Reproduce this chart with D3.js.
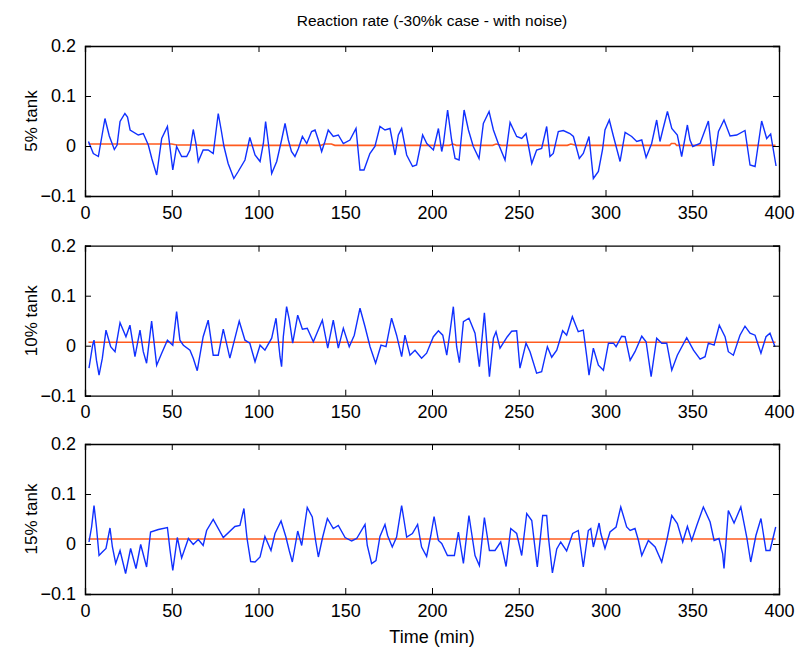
<!DOCTYPE html>
<html>
<head>
<meta charset="utf-8">
<script src="https://cdn.jsdelivr.net/npm/d3@7"></script>
<style>
  body { margin: 0; background: #fff; }
  text { font-family: "Liberation Sans", Arial, sans-serif; fill: #000; }
</style>
</head>
<body>
<script>
// reaction rate with noise, one array of [time, value] per tank
var tank5 = [[2,0.009],[4.8,-0.015],[7.7,-0.021],[11.5,0.055],[14,0.02],[16.9,-0.007],[18.5,0.002],[20.2,0.049],[23,0.065],[24.5,0.058],[26,0.032],[30.7,0.022],[33.6,0.025],[36.5,0.002],[38.5,-0.025],[41.3,-0.058],[44.2,0.015],[47.5,0.039],[50.6,-0.048],[52.8,-0.001],[55.7,-0.021],[58.6,-0.021],[60.5,-0.008],[62.4,0.033],[64,0.004],[65.3,-0.031],[68.1,-0.008],[71,-0.008],[73.9,-0.015],[76.8,0.065],[78.5,0.032],[80.1,-0.001],[82.5,-0.035],[85.8,-0.065],[88.3,-0.051],[92.2,-0.028],[95,0.017],[98,-0.018],[100.9,-0.031],[102.8,0.005],[104.1,0.049],[105.7,0.005],[107.6,-0.055],[110.5,-0.031],[113.3,0.012],[115.3,0.045],[117.2,0.012],[119,-0.011],[121,-0.021],[123,-0.005],[125.3,0.019],[127.8,0.005],[130.6,0.029],[132.6,0.032],[134.5,0.012],[136.4,-0.011],[138.3,0.009],[140.2,0.032],[143.1,0.019],[146,0.022],[148.9,0.005],[152.7,0.012],[156.2,0.035],[158.5,-0.048],[160.8,-0.048],[164.2,-0.015],[167.1,-0.001],[170,0.039],[172.9,0.032],[175.8,0.035],[178.7,-0.018],[180.6,0.022],[182.5,0.035],[185.4,-0.018],[188.8,-0.041],[191.1,-0.038],[194.6,0.022],[197,0.005],[200.8,-0.008],[203.7,0.035],[205.6,-0.011],[206.6,0.005],[209,0.072],[211.3,0.012],[213.3,-0.025],[215.6,-0.028],[218.5,0.072],[221,0.032],[223.8,-0.001],[227.1,-0.025],[229.6,0.045],[232.9,0.069],[235.4,0.032],[238.2,0.005],[242.1,-0.028],[245,0.047],[248.8,0.019],[251.7,0.015],[254.2,0.025],[255.5,0.002],[257.5,-0.035],[260.3,-0.008],[263.2,-0.005],[266.1,0.039],[268,-0.021],[269.9,-0.015],[272.8,0.029],[275.7,0.031],[279.5,0.025],[281.5,0.019],[284.9,-0.025],[287.2,-0.015],[290.5,0.019],[293,-0.065],[295.9,-0.051],[298.3,-0.007],[299.7,0.032],[302.2,0.052],[304.6,0.019],[308.4,-0.031],[311.3,0.027],[315.1,0.019],[318,0.009],[320.9,0.012],[323.4,-0.023],[326.6,0.005],[329.5,0.052],[331.4,0.009],[333,0.032],[335.7,0.069],[338.2,0.035],[341.4,0.022],[343.9,-0.021],[347.2,0.042],[348.7,0.012],[350.3,-0.001],[354.5,0.005],[359.3,0.05],[362.2,-0.04],[365.1,0.029],[368.3,0.052],[371.8,0.02],[375.6,0.022],[380.4,0.031],[383.3,-0.038],[386.2,-0.041],[390,0.05],[392.9,0.015],[395.2,0.024],[398.3,-0.04]];

var tank10 = [[2.3,-0.045],[4.4,0.001],[5.2,0.011],[6.6,-0.029],[8.1,-0.059],[10,-0.025],[12.1,0.031],[14.8,-0.002],[17.3,-0.012],[20.2,0.046],[23.6,0.018],[25.9,0.041],[28.8,-0.022],[31.7,0.031],[33.6,-0.012],[35.5,-0.035],[38.4,0.049],[41.3,-0.039],[44.2,-0.015],[47.5,0.011],[50.6,0.001],[52.8,0.068],[54.7,0.011],[56.7,0.001],[60.5,-0.009],[62.4,-0.025],[64.7,-0.05],[68.1,0.018],[71,0.051],[73.9,-0.019],[76.8,-0.019],[79.7,0.033],[83.5,-0.025],[88.9,0.049],[92.2,0.011],[95,0.005],[98,-0.032],[100.9,0.001],[103.7,-0.009],[107.6,0.015],[110.1,0.055],[112.4,-0.022],[113.3,-0.042],[114.3,0.018],[116.2,0.078],[117.8,0.051],[119.7,0.005],[122.6,0.061],[125.3,0.033],[128.1,0.035],[131.6,0.008],[136.8,0.051],[139.9,-0.005],[143.1,0.051],[146,-0.005],[148.9,0.035],[152.3,-0.002],[155.2,0.021],[158.5,0.075],[161.4,0.038],[164.3,-0.002],[167.5,-0.035],[170.6,0.001],[173.5,-0.002],[176.7,0.055],[179.6,0.021],[182.5,-0.022],[184.4,0.021],[187.3,-0.019],[190.2,-0.009],[194,-0.025],[196.9,-0.015],[200.8,0.018],[203.7,0.03],[206.2,0.021],[208.5,-0.019],[210.4,0.028],[212.3,0.078],[214.2,-0.002],[215.8,-0.034],[218.1,0.048],[221.3,0.055],[224.8,0.025],[227.3,-0.042],[230.2,0.066],[233.1,-0.062],[235.4,0.015],[236.9,0.028],[239.2,-0.005],[243.4,0.018],[245.9,0.029],[248.8,0.03],[250.7,-0.045],[254.2,0.005],[256.5,-0.012],[260.3,-0.055],[263.2,-0.052],[266.5,-0.002],[269,-0.023],[271.9,-0.009],[275.3,0.03],[277.6,0.021],[280.9,0.058],[284.3,0.028],[287.2,0.031],[289.2,-0.022],[290.5,-0.059],[293,-0.005],[295.9,-0.039],[298.8,-0.049],[301.7,0.005],[304.6,0.005],[306.1,-0.002],[309.3,0.019],[311.3,0.018],[314.2,-0.029],[317,-0.012],[320.9,0.019],[323.4,0.008],[326.3,-0.062],[329.5,0.015],[332.4,0.005],[335.3,0.005],[338.2,-0.049],[341.4,-0.019],[346.8,0.016],[350.7,-0.009],[354.5,-0.027],[357.4,-0.022],[359.3,0.005],[362.6,0.001],[365.6,0.041],[368.9,0.018],[370.8,-0.012],[373.7,-0.019],[377.5,0.021],[380.4,0.039],[383.3,0.025],[386.2,0.021],[389.6,-0.015],[392.5,0.018],[394.8,0.025],[397.7,-0.002]];

var tank15 = [[2.3,0.004],[3.8,0.034],[5.2,0.077],[6.6,0.034],[8.1,-0.023],[10,-0.016],[12.1,-0.009],[14.4,0.032],[15.8,-0.006],[17.7,-0.039],[20.2,-0.013],[23.4,-0.059],[26.3,-0.009],[29.4,-0.049],[32.1,-0.001],[35.5,-0.046],[37.8,0.024],[42.3,0.029],[47.5,0.033],[49,-0.012],[50.6,-0.053],[53.2,0.013],[55.7,-0.028],[59.6,0.011],[62.4,-0.001],[65.3,0.009],[68.1,-0.003],[70.1,0.027],[73.9,0.049],[79.7,0.013],[86.4,0.035],[89.3,0.037],[91.6,0.071],[93.4,0.011],[95.5,-0.035],[98,-0.036],[100.9,-0.026],[103.7,0.015],[107.2,-0.013],[109.5,0.021],[113,0.046],[115.8,0.014],[117.7,-0.013],[119.5,-0.036],[122.6,0.026],[124.9,-0.003],[128.1,0.073],[131,0.054],[132.9,0.007],[134.5,-0.026],[137,0.014],[139.7,0.051],[143.1,0.031],[146,0.037],[149.9,0.013],[153.7,0.006],[156.6,0.011],[161.4,0.039],[162.7,-0.003],[165.2,-0.039],[167.7,-0.033],[170,0.015],[172.9,0.039],[174.4,0.017],[177.1,-0.006],[179.6,0.014],[182.5,0.077],[183.9,0.047],[185.4,0.014],[188.7,0.021],[191.7,0.039],[194,-0.006],[196.9,-0.025],[199.3,0.017],[201.2,0.055],[203.7,0.007],[205.6,0.001],[208.9,-0.023],[212.9,-0.023],[215.2,0.024],[218.1,-0.039],[221.3,0.057],[224.8,-0.023],[227.3,-0.043],[230.2,0.053],[233.1,-0.013],[236.3,-0.013],[239.6,0.004],[242.7,-0.045],[245.4,0.031],[248.8,0.021],[251.7,-0.023],[254.6,0.061],[257.5,0.047],[260.3,-0.036],[260.7,-0.046],[263.8,0.057],[266.1,0.057],[267.1,0.014],[269.4,-0.058],[271.9,-0.01],[274.2,0.004],[277.6,-0.014],[281.1,0.021],[284.3,0.027],[287.2,-0.046],[290.1,0.027],[291.5,0.031],[293,-0.006],[294.9,0.021],[296.3,0.042],[297.3,0.021],[299.7,-0.009],[302.6,0.024],[306.1,0.034],[308.8,0.074],[312.2,0.034],[314.2,0.027],[317,0.031],[319,0.007],[320.9,-0.023],[324.7,0.007],[328.6,-0.006],[332.4,-0.036],[335.3,0.007],[338.2,0.057],[341.4,0.041],[344.5,0.004],[347.2,0.035],[349.7,0.007],[352.6,0.037],[356.4,0.074],[360.3,0.044],[362.6,0.007],[365.4,0.011],[367.5,-0.019],[368.3,-0.049],[370.8,0.067],[374.1,0.042],[378,0.074],[381.4,0.014],[383.7,-0.036],[386.7,0.017],[389.6,0.051],[392.5,-0.013],[394.8,-0.013],[398.1,0.034]];

// model (no noise) curves
var model5 = [[2,0.004],[50,0.004],[53,0.002],[64,0.002],[67,0.0013],[136,0.0013],[138,0.004],[142,0.004],[144,0.0013],[210,0.0013],[212,0.004],[214,0.0013],[235,0.0013],[237,0.004],[240,0.0013],[278,0.0013],[280,0.004],[283,0.0013],[337,0.0013],[338,0.005],[340,0.005],[341,0.0013],[398,0.0013]];
var model10 = [[2,0.007],[398,0.007]];
var model15 = [[2,0.01],[398,0.01]];

var panels = [
  {label: '5% tank', noisy: tank5, model: model5},
  {label: '10% tank', noisy: tank10, model: model10},
  {label: '15% tank', noisy: tank15, model: model15}
];

var xTicks = [0, 50, 100, 150, 200, 250, 300, 350, 400];
var yTicks = [0.2, 0.1, 0, -0.1];

var width = 798, height = 652;
var left = 85, right = 779;
var tops = [46, 245.7, 444];
var ph = 150;

var svg = d3.select('body').append('svg')
  .attr('width', width)
  .attr('height', height);

var x = d3.scaleLinear().domain([0, 400]).range([left, right]);

svg.append('text')
  .attr('x', (left + right) / 2)
  .attr('y', 26)
  .attr('text-anchor', 'middle')
  .style('font-size', '15.5px')
  .text('Reaction rate (-30%k case - with noise)');

panels.forEach(function(p, i){
  var top = tops[i];
  var y = d3.scaleLinear().domain([-0.1, 0.2]).range([top + ph, top]);
  var g = svg.append('g');

  var line = d3.line()
    .x(function(d){ return x(d[0]); })
    .y(function(d){ return y(d[1]); });

  g.append('path')
    .datum(p.model)
    .attr('d', line)
    .attr('fill', 'none')
    .attr('stroke', '#ff5a1e')
    .attr('stroke-width', 1.6);

  g.append('path')
    .datum(p.noisy)
    .attr('d', line)
    .attr('fill', 'none')
    .attr('stroke', '#1030ff')
    .attr('stroke-width', 1.4);

  // axes, ticks pointing inward like matlab
  var bottom = d3.axisBottom(x).tickValues(xTicks).tickSize(-6).tickPadding(10);
  var topAx = d3.axisTop(x).tickValues(xTicks).tickSize(-6).tickFormat('');
  var leftAx = d3.axisLeft(y).tickValues(yTicks).tickSize(-6).tickPadding(9)
    .tickFormat(function(d){ return d === 0 ? '0' : d3.format('.1f')(d); });
  var rightAx = d3.axisRight(y).tickValues(yTicks).tickSize(-6).tickFormat('');

  [
    g.append('g').attr('transform', 'translate(0,' + (top + ph) + ')').call(bottom),
    g.append('g').attr('transform', 'translate(0,' + top + ')').call(topAx),
    g.append('g').attr('transform', 'translate(' + left + ',0)').call(leftAx),
    g.append('g').attr('transform', 'translate(' + right + ',0)').call(rightAx)
  ].forEach(function(a){
    a.select('.domain').attr('stroke', '#000').attr('stroke-width', 1.3);
    a.selectAll('.tick line').attr('stroke', '#000');
    a.selectAll('.tick text')
      .style('font-family', '"Liberation Sans", Arial, sans-serif')
      .style('font-size', '18px')
      .attr('fill', '#000');
  });

  g.append('text')
    .attr('transform', 'translate(37,' + (top + ph / 2) + ') rotate(-90)')
    .attr('text-anchor', 'middle')
    .style('font-size', '17px')
    .text(p.label);
});

svg.append('text')
  .attr('x', (left + right) / 2)
  .attr('y', 643)
  .attr('text-anchor', 'middle')
  .style('font-size', '18px')
  .text('Time (min)');
</script>
</body>
</html>
